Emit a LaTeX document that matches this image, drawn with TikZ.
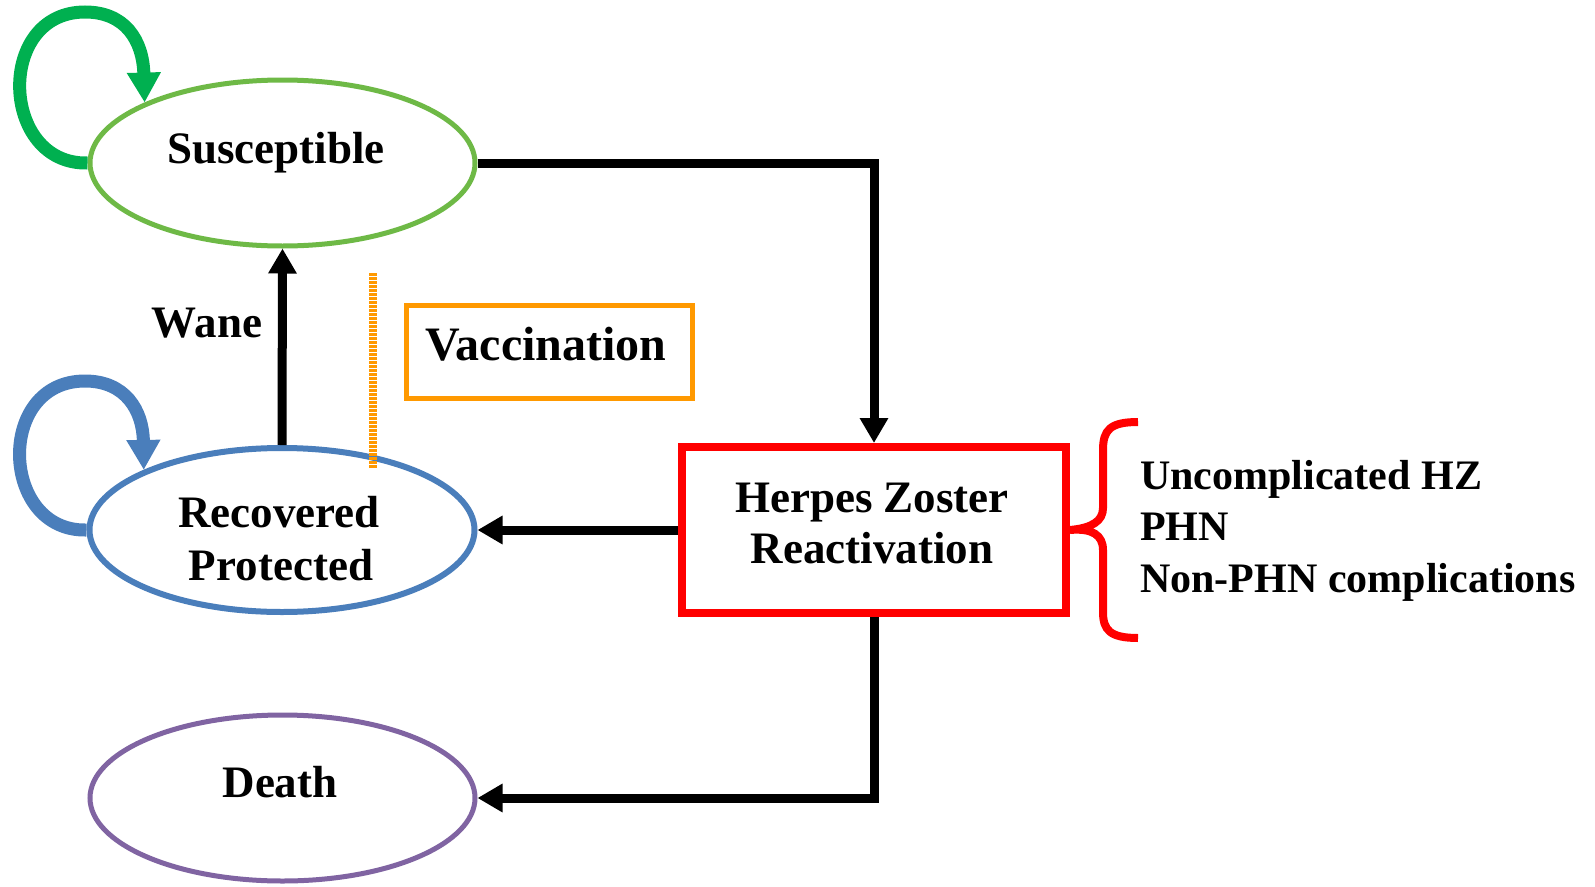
\documentclass[tikz,border=0pt]{standalone}
\usepackage{fontspec}
\setmainfont{Liberation Serif}
\usetikzlibrary{arrows.meta,shapes.geometric}
\definecolor{sgreen}{RGB}{110,185,70}
\definecolor{lgreen}{RGB}{0,176,80}
\definecolor{rblue}{RGB}{74,126,187}
\definecolor{dpurple}{RGB}{128,100,162}
\definecolor{vorange}{RGB}{255,153,0}
\definecolor{hzred}{RGB}{255,0,0}
\tikzset{
  state/.style={ellipse, draw, fill=white, inner sep=0pt, minimum width=385pt, minimum height=166pt},
  lbl/.style={inner sep=0pt, anchor=base, font=\fontsize{45}{51}\selectfont\bfseries},
  sidelbl/.style={inner sep=0pt, anchor=base west, font=\fontsize{42}{48}\selectfont\bfseries},
  flow/.style={line width=9pt, -{Triangle[width=27pt,length=25pt]}},
  loopar/.style={line width=13pt, -{Triangle[width=32pt,length=30pt]}},
}
\begin{document}
\begin{tikzpicture}[x=1pt,y=-1pt]
\useasboundingbox (0,0) rectangle (1595,886);
% nodes
\node[state, draw=sgreen, line width=5pt] (sus) at (282.5,163) {};
\node[state, draw=rblue, line width=6pt, minimum height=164pt] (rec) at (282,530) {};
\node[state, draw=dpurple, line width=5pt] (death) at (282.5,798) {};
\node[draw=hzred, line width=8pt, fill=white, inner sep=0pt, minimum width=384pt, minimum height=166pt] (hz) at (874,530) {};
\node[draw=vorange, line width=5pt, inner sep=0pt, minimum width=286pt, minimum height=93pt] (vac) at (549,352) {};
% texts
\node[lbl] (tsus) at (276,163) {Susceptible};
\node[lbl] (trec1) at (279,527) {Recovered};
\node[lbl] (trec2) at (281,580) {Protected};
\node[lbl] (tdeath) at (280,797) {Death};
\node[lbl] (thz1) at (872,512) {Herpes Zoster};
\node[lbl] (thz2) at (872,563) {Reactivation};
\node[lbl] (twane) at (207,337) {Wane};
\node[lbl, font=\fontsize{48}{54}\selectfont\bfseries] (tvac) at (546,360) {Vaccination};
\node[sidelbl] (o1) at (1140,489) {Uncomplicated HZ};
\node[sidelbl] (o2) at (1140,540) {PHN};
\node[sidelbl] (o3) at (1140,592) {Non-PHN complications};
% connectors
\draw[flow] (sus.east) -| (hz.north);
\draw[flow] (hz.west) -- (rec.east);
\draw[flow] (hz.south) |- (death.east);
\draw[flow] (rec.north) -- (sus.south);
% self loops
\draw[loopar, lgreen] (sus.west) .. controls (0,165) and (-5,12) .. (85,12)
   .. controls (125,12) and (143,40) .. (sus.north west);
\draw[loopar, rblue] (rec.west) .. controls (0,532) and (-5,381) .. (85,381)
   .. controls (125,381) and (143,410) .. (rec.north west);
% dotted orange line
\coordinate (vt) at (373,273);
\coordinate (vb) at (373,468);
\draw[vorange, line width=8pt, dash pattern=on 2.5pt off 1.5pt] (vt) -- (vb);
% brace
\draw[hzred, line width=8pt] (1138,422) .. controls (1110,422) and (1103,430) .. (1103,450)
   -- (1103,508) .. controls (1103,521) and (1092,528) .. (hz.east)
   .. controls (1092,528) and (1103,535) .. (1103,550)
   -- (1103,612) .. controls (1103,630) and (1110,638) .. (1138,638);
\end{tikzpicture}
\end{document}
